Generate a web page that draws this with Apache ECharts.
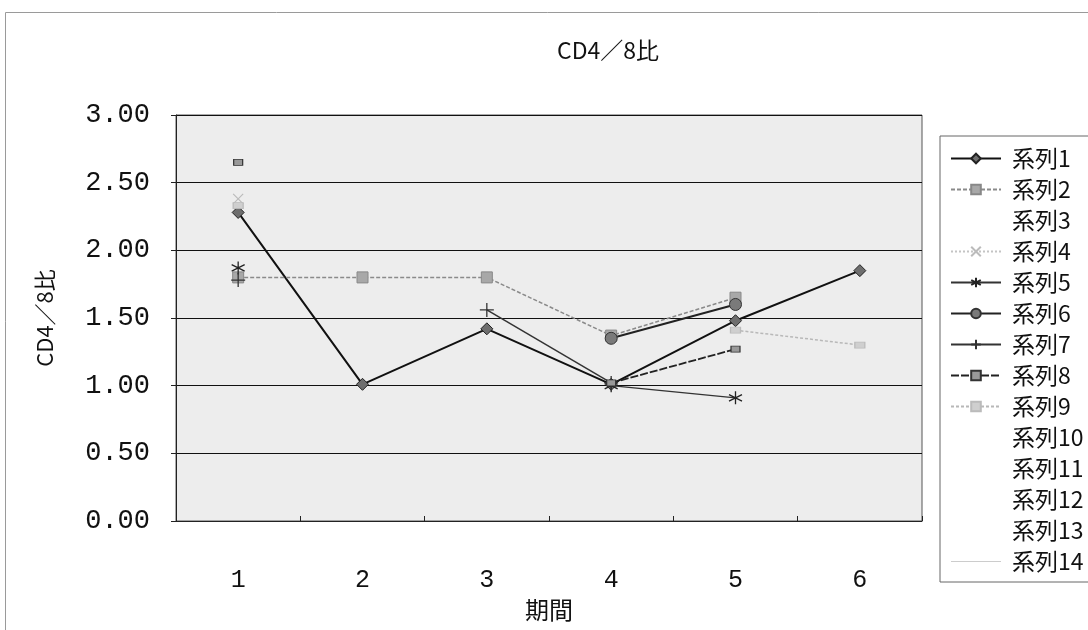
<!DOCTYPE html>
<html>
<head>
<meta charset="utf-8">
<style>
  html, body { margin: 0; padding: 0; background: #ffffff; }
  #chart { width: 1088px; height: 630px; }
</style>
<script src="https://cdn.jsdelivr.net/npm/echarts@6/dist/echarts.min.js"></script>
</head>
<body>
<div id="chart"></div>
<script>
// Periods along the x axis
const periods = ['1', '2', '3', '4', '5', '6'];
// Y tick values
const yTicks = [0, 0.5, 1, 1.5, 2, 2.5, 3];

// CD4/8 ratio per series (null = not measured in that period)
const s1  = [2.28, 1.01, 1.42, 1.01, 1.48, 1.85];
const s2  = [1.80, 1.80, 1.80, 1.37, 1.65, null];
const s3  = [null, null, null, null, null, null];
const s4  = [2.38, null, null, null, null, null];
const s5  = [1.87, null, null, 1.00, 0.91, null];
const s6  = [null, null, null, 1.35, 1.60, null];
const s7  = [1.78, null, 1.56, 1.02, null, null];
const s8  = [2.65, null, null, 1.02, 1.27, null];
const s9  = [2.33, null, null, null, 1.41, 1.30];
const s10 = [null, null, null, null, null, null];
const s11 = [null, null, null, null, null, null];
const s12 = [null, null, null, null, null, null];
const s13 = [null, null, null, null, null, null];
const s14 = [null, null, null, null, null, null];

const seriesNames = ['系列1','系列2','系列3','系列4','系列5','系列6','系列7',
                     '系列8','系列9','系列10','系列11','系列12','系列13','系列14'];
const seriesData = [s1, s2, s3, s4, s5, s6, s7, s8, s9, s10, s11, s12, s13, s14];

const ASTERISK = 'path://M0,-10L0,10M-8.66,-5L8.66,5M-8.66,5L8.66,-5';
const CROSS = 'path://M-6,-6L6,6M-6,6L6,-6';
const PLUS = 'path://M0,-8L0,8M-8,0L8,0';

// Per-series line and marker looks
const looks = [
  { line: { color: '#111', width: 2 }, symbol: 'diamond', size: 12, item: { color: '#6e6e6e', borderColor: '#222', borderWidth: 1 } },
  { line: { color: '#8a8a8a', width: 1.5, type: [4, 2] }, symbol: 'rect', size: 11, item: { color: '#a8a8a8', borderColor: '#888', borderWidth: 1 } },
  { line: { color: '#fff', width: 0, opacity: 0 }, symbol: 'none', size: 0, item: { color: 'rgba(0,0,0,0)' } },
  { line: { color: '#c4c4c4', width: 1, type: [2, 2] }, symbol: CROSS, size: 10, item: { color: 'rgba(0,0,0,0)', borderColor: '#bbb', borderWidth: 1.2 } },
  { line: { color: '#333', width: 1.2 }, symbol: ASTERISK, size: 13, item: { color: 'rgba(0,0,0,0)', borderColor: '#222', borderWidth: 1.3 } },
  { line: { color: '#222', width: 2 }, symbol: 'circle', size: 12, item: { color: '#7a7a7a', borderColor: '#333', borderWidth: 1 } },
  { line: { color: '#333', width: 1.5 }, symbol: PLUS, size: 14, item: { color: 'rgba(0,0,0,0)', borderColor: '#333', borderWidth: 1.3 } },
  { line: { color: '#222', width: 1.8, type: [8, 2] }, symbol: 'rect', size: [9, 6], item: { color: '#999', borderColor: '#333', borderWidth: 1 } },
  { line: { color: '#b8b8b8', width: 1.5, type: [3, 2] }, symbol: 'rect', size: [10, 6], item: { color: '#cfcfcf', borderColor: '#bbb', borderWidth: 1 } },
  { line: { color: '#fff', width: 0, opacity: 0 }, symbol: 'none', size: 0, item: { color: 'rgba(0,0,0,0)' } },
  { line: { color: '#fff', width: 0, opacity: 0 }, symbol: 'none', size: 0, item: { color: 'rgba(0,0,0,0)' } },
  { line: { color: '#fff', width: 0, opacity: 0 }, symbol: 'none', size: 0, item: { color: 'rgba(0,0,0,0)' } },
  { line: { color: '#fff', width: 0, opacity: 0 }, symbol: 'none', size: 0, item: { color: 'rgba(0,0,0,0)' } },
  { line: { color: '#c8c8c8', width: 1, type: [2, 3] }, symbol: 'none', size: 0, item: { color: '#c8c8c8' } }
];

// The faint last entry gets a plain thin-line key
const legendData = seriesNames.map((name, i) => i === 13
  ? { name: name, icon: 'path://M0,0L50,0L50,1L0,1Z', itemStyle: { color: '#cccccc' } }
  : name);

const textFont = '"Noto Sans CJK JP", "Noto Sans", sans-serif';
const numFont = '"Liberation Mono", "DejaVu Sans Mono", monospace';

const series = seriesNames.map((name, i) => ({
  name: name,
  type: 'line',
  data: seriesData[i],
  connectNulls: false,
  symbol: looks[i].symbol,
  symbolSize: looks[i].size,
  showAllSymbol: true,
  lineStyle: looks[i].line,
  itemStyle: looks[i].item,
  emphasis: { disabled: true },
  animation: false
}));

const chart = echarts.init(document.getElementById('chart'), null, { renderer: 'canvas' });
chart.setOption({
  animation: false,
  backgroundColor: '#ffffff',
  grid: {
    left: 176, right: 166, top: 115, bottom: 109,
    show: true,
    backgroundColor: '#ededed',
    borderColor: '#555',
    borderWidth: 1
  },
  graphic: [
    { type: 'rect', shape: { x: 5.5, y: 12.5, width: 1100, height: 640 },
      style: { fill: 'none', stroke: '#9a9a9a', lineWidth: 1 }, silent: true },
    { type: 'text', x: 608, y: 50,
      style: { text: 'CD4／8比', font: '23px ' + textFont, fill: '#111', align: 'center', verticalAlign: 'middle' } }
  ],
  legend: {
    orient: 'vertical',
    left: 940, top: 136,
    padding: [11, 30, 9, 10],
    itemWidth: 50, itemHeight: 12,
    itemGap: 8,
    borderColor: '#666', borderWidth: 1,
    backgroundColor: '#fff',
    data: legendData,
    textStyle: { fontFamily: textFont, fontSize: 23, lineHeight: 23, color: '#111', padding: [0, 0, 0, 6] }
  },
  xAxis: {
    type: 'category',
    data: periods,
    boundaryGap: true,
    name: '期間',
    nameLocation: 'middle',
    nameGap: 71,
    nameTextStyle: { fontFamily: textFont, fontSize: 24, color: '#111' },
    axisLine: { lineStyle: { color: '#222', width: 1 } },
    axisTick: { show: true, inside: true, length: 5, lineStyle: { color: '#222' } },
    axisLabel: { margin: 47, fontFamily: numFont, fontSize: 25, color: '#111' },
    splitLine: { show: false }
  },
  yAxis: {
    type: 'value',
    min: yTicks[0], max: yTicks[yTicks.length - 1], interval: 0.5,
    name: 'CD4／8比',
    nameLocation: 'middle',
    nameGap: 120,
    nameTextStyle: { fontFamily: textFont, fontSize: 22, color: '#111' },
    axisLine: { show: true, lineStyle: { color: '#222', width: 1 } },
    axisTick: { show: true, length: 5, lineStyle: { color: '#222' } },
    axisLabel: { margin: 26, fontFamily: numFont, fontSize: 27, color: '#111',
      formatter: v => v.toFixed(2) },
    splitLine: { show: true, lineStyle: { color: '#111', width: 1 } }
  },
  series: series
});
</script>
</body>
</html>
